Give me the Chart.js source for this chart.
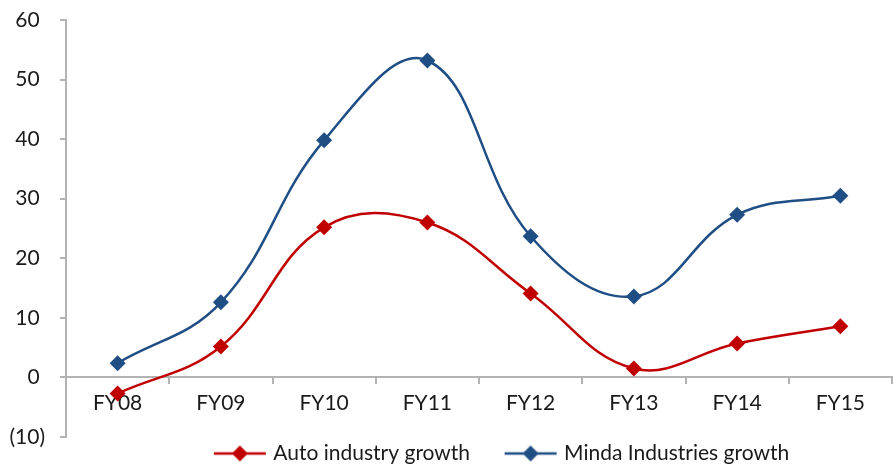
<!DOCTYPE html>
<html>
<head>
<meta charset="utf-8">
<script src="https://cdn.jsdelivr.net/npm/chart.js@4.4.0/dist/chart.umd.min.js"></script>
<style>
  html, body { margin: 0; padding: 0; background: #fff; overflow: hidden; }
  #wrap { width: 900px; height: 465px; }
</style>
</head>
<body>
<div id="wrap"><canvas id="chart" width="900" height="465"></canvas></div>
<script>
// Year-on-year growth, %
const categories = ['FY08', 'FY09', 'FY10', 'FY11', 'FY12', 'FY13', 'FY14', 'FY15'];
const autoIndustryGrowth = [-2.7, 5.2, 25.2, 26.0, 14.1, 1.5, 5.7, 8.6];
const mindaGrowth = [2.4, 12.6, 39.8, 53.2, 23.7, 13.6, 27.3, 30.5];
const seriesNames = ['Auto industry growth', 'Minda Industries growth'];
const yMin = -10, yMax = 60, yStep = 10;

const RED = '#C00000';
const BLUE = '#1F4E85';
const AXIS_GREY = '#B3B3B3';
const TEXT = '#1a1a1a';
const FONT = 'Lato';
const TICK_FONT_SIZE = 21;
const LEGEND_FONT_SIZE = 21;
const LEGEND_SHIFT = 53;

// line-with-diamond swatch used as the legend marker
function legendSwatch(color) {
  const c = document.createElement('canvas');
  c.width = 56; c.height = 18;
  const g = c.getContext('2d');
  g.strokeStyle = color; g.lineWidth = 2.5;
  g.beginPath(); g.moveTo(2, 9); g.lineTo(54, 9); g.stroke();
  g.fillStyle = color;
  g.beginPath(); g.moveTo(28, 1); g.lineTo(36, 9); g.lineTo(28, 17); g.lineTo(20, 9); g.closePath(); g.fill();
  return c;
}
const swatches = [legendSwatch(RED), legendSwatch(BLUE)];

// nudges the legend row sideways
const legendShift = {
  id: 'legendShift',
  afterLayout(chart) {
    const l = chart.legend;
    if (l) { l.left += LEGEND_SHIFT; l.right += LEGEND_SHIFT; }
  }
};

function series(label, data, color) {
  return {
    label, data,
    borderColor: color, backgroundColor: color,
    borderWidth: 2.5, tension: 0.4,
    pointStyle: 'rectRot', pointRadius: 8, pointHoverRadius: 8,
    pointBackgroundColor: color, pointBorderColor: color, pointBorderWidth: 0,
    clip: false
  };
}

new Chart(document.getElementById('chart'), {
  type: 'line',
  data: {
    labels: categories,
    datasets: [
      series(seriesNames[0], autoIndustryGrowth, RED),
      series(seriesNames[1], mindaGrowth, BLUE)
    ]
  },
  plugins: [legendShift],
  options: {
    responsive: false,
    animation: false,
    layout: { padding: { top: 20, left: 0, right: 0, bottom: 0 } },
    plugins: {
      tooltip: { enabled: false },
      legend: {
        position: 'bottom',
        maxHeight: 28,
        labels: {
          usePointStyle: true,
          pointStyleWidth: 46,
          padding: 6,
          color: TEXT,
          font: { family: FONT, size: LEGEND_FONT_SIZE },
          generateLabels(chart) {
            const items = Chart.defaults.plugins.legend.labels.generateLabels(chart);
            items.forEach((it, i) => {
              it.pointStyle = swatches[i];
              if (i === 0) it.text = it.text + '\u2003\u2003';
            });
            return items;
          }
        }
      }
    },
    scales: {
      x: {
        type: 'category',
        position: { y: 0 },
        offset: true,
        grid: { offset: true, drawOnChartArea: false, drawTicks: true, tickLength: 6, color: AXIS_GREY, lineWidth: 2 },
        border: { display: true, color: AXIS_GREY, width: 2 },
        ticks: { color: TEXT, font: { family: FONT, size: TICK_FONT_SIZE }, padding: 7, maxRotation: 0, autoSkip: false }
      },
      y: {
        min: yMin, max: yMax,
        afterFit(scale) {
          scale.width = 66;
          scale.paddingTop = 0;
          scale.paddingBottom = 0;
        },
        grid: { drawOnChartArea: false, drawTicks: true, tickLength: 6, color: AXIS_GREY, lineWidth: 2 },
        border: { display: true, color: AXIS_GREY, width: 2 },
        ticks: {
          stepSize: yStep, padding: 15, color: TEXT,
          font: { family: FONT, size: TICK_FONT_SIZE },
          callback: v => v < 0 ? '(' + Math.abs(v) + ')' : v + ' '
        }
      }
    }
  }
});
</script>
</body>
</html>
